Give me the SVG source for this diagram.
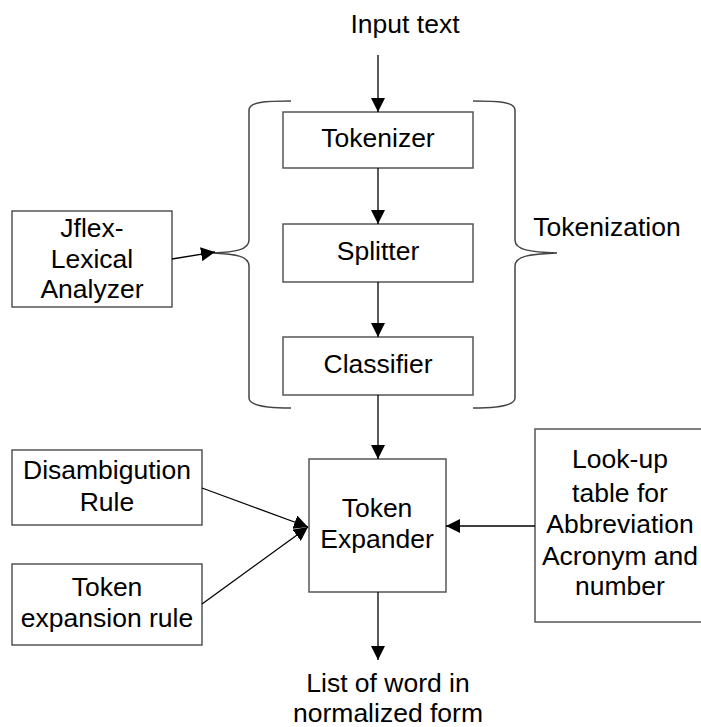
<svg xmlns="http://www.w3.org/2000/svg" width="701" height="727" viewBox="0 0 701 727">
  <style>
    .box { fill: #ffffff; stroke: #555555; stroke-width: 1.5; }
    .lbl { font-family: "Liberation Sans", Arial, sans-serif; font-size: 26.5px; fill: #000000; text-anchor: middle; }
    .edge { fill: none; stroke: #000000; stroke-width: 1.3; }
    .brace { fill: none; stroke: #444444; stroke-width: 1.5; }
  </style>
  <defs>
    <marker id="arrow" markerUnits="userSpaceOnUse" markerWidth="14" markerHeight="14" viewBox="0 0 14 14" refX="14" refY="7" orient="auto">
      <path d="M0,0 L14,7 L0,14 Z" fill="#000000"/>
    </marker>
  </defs>
  <rect width="701" height="727" fill="#ffffff"/>

  <!-- free labels -->
  <g id="input">
    <text class="lbl" x="405" y="33">Input text</text>
  </g>
  <g id="output">
    <text class="lbl" x="388" y="692">List of word in</text>
    <text class="lbl" x="388" y="722">normalized form</text>
  </g>

  <!-- tokenization stage -->
  <g id="tokenizer">
    <rect class="box" x="283" y="112" width="190" height="56"/>
    <text class="lbl" x="378" y="147">Tokenizer</text>
  </g>
  <g id="splitter">
    <rect class="box" x="283" y="224" width="190" height="58"/>
    <text class="lbl" x="378" y="260">Splitter</text>
  </g>
  <g id="classifier">
    <rect class="box" x="283" y="337" width="190" height="58"/>
    <text class="lbl" x="378" y="373">Classifier</text>
  </g>
  <g id="tokenization">
    <path class="brace" d="M291,101 C265,101 249,102 249,110 L249,240 C249,250 235,252 213,253 C235,254 249,256 249,266 L249,398 C249,405 265,408 291,408"/>
    <path class="brace" d="M473,101 C499,101 515,102 515,110 L515,240 C515,250 530,252 557,253 C530,254 515,256 515,266 L515,398 C515,405 499,408 473,408"/>
    <text class="lbl" x="607" y="236">Tokenization</text>
  </g>

  <!-- side inputs -->
  <g id="jflex">
    <rect class="box" x="12" y="211" width="160" height="96"/>
    <text class="lbl" x="92" y="237">Jflex-</text>
    <text class="lbl" x="92" y="268">Lexical</text>
    <text class="lbl" x="92" y="298">Analyzer</text>
  </g>
  <g id="disambiguation">
    <rect class="box" x="12" y="450" width="190" height="75"/>
    <text class="lbl" x="107" y="479">Disambigution</text>
    <text class="lbl" x="107" y="511">Rule</text>
  </g>
  <g id="expansion-rule">
    <rect class="box" x="12" y="564" width="190" height="81"/>
    <text class="lbl" x="107" y="596">Token</text>
    <text class="lbl" x="107" y="627">expansion rule</text>
  </g>
  <g id="token-expander">
    <rect class="box" x="309" y="459" width="137" height="133"/>
    <text class="lbl" x="377" y="517">Token</text>
    <text class="lbl" x="377" y="548">Expander</text>
  </g>
  <g id="lookup">
    <rect class="box" x="535" y="429" width="200" height="193"/>
    <text class="lbl" x="620" y="468">Look-up</text>
    <text class="lbl" x="620" y="502">table for</text>
    <text class="lbl" x="620" y="533">Abbreviation</text>
    <text class="lbl" x="620" y="565">Acronym and</text>
    <text class="lbl" x="620" y="595">number</text>
  </g>

  <!-- connectors -->
  <g id="connectors">
    <line class="edge" x1="378" y1="55" x2="378" y2="112" marker-end="url(#arrow)"/>
    <line class="edge" x1="378" y1="168" x2="378" y2="224" marker-end="url(#arrow)"/>
    <line class="edge" x1="378" y1="282" x2="378" y2="337" marker-end="url(#arrow)"/>
    <line class="edge" x1="378" y1="395" x2="378" y2="459" marker-end="url(#arrow)"/>
    <line class="edge" x1="378" y1="592" x2="378" y2="660" marker-end="url(#arrow)"/>
    <line class="edge" x1="172" y1="259" x2="215" y2="252" marker-end="url(#arrow)"/>
    <line class="edge" x1="202" y1="488" x2="308" y2="527" marker-end="url(#arrow)"/>
    <line class="edge" x1="202" y1="604" x2="308" y2="527" marker-end="url(#arrow)"/>
    <line class="edge" x1="535" y1="526" x2="446" y2="526" marker-end="url(#arrow)"/>
  </g>
</svg>
